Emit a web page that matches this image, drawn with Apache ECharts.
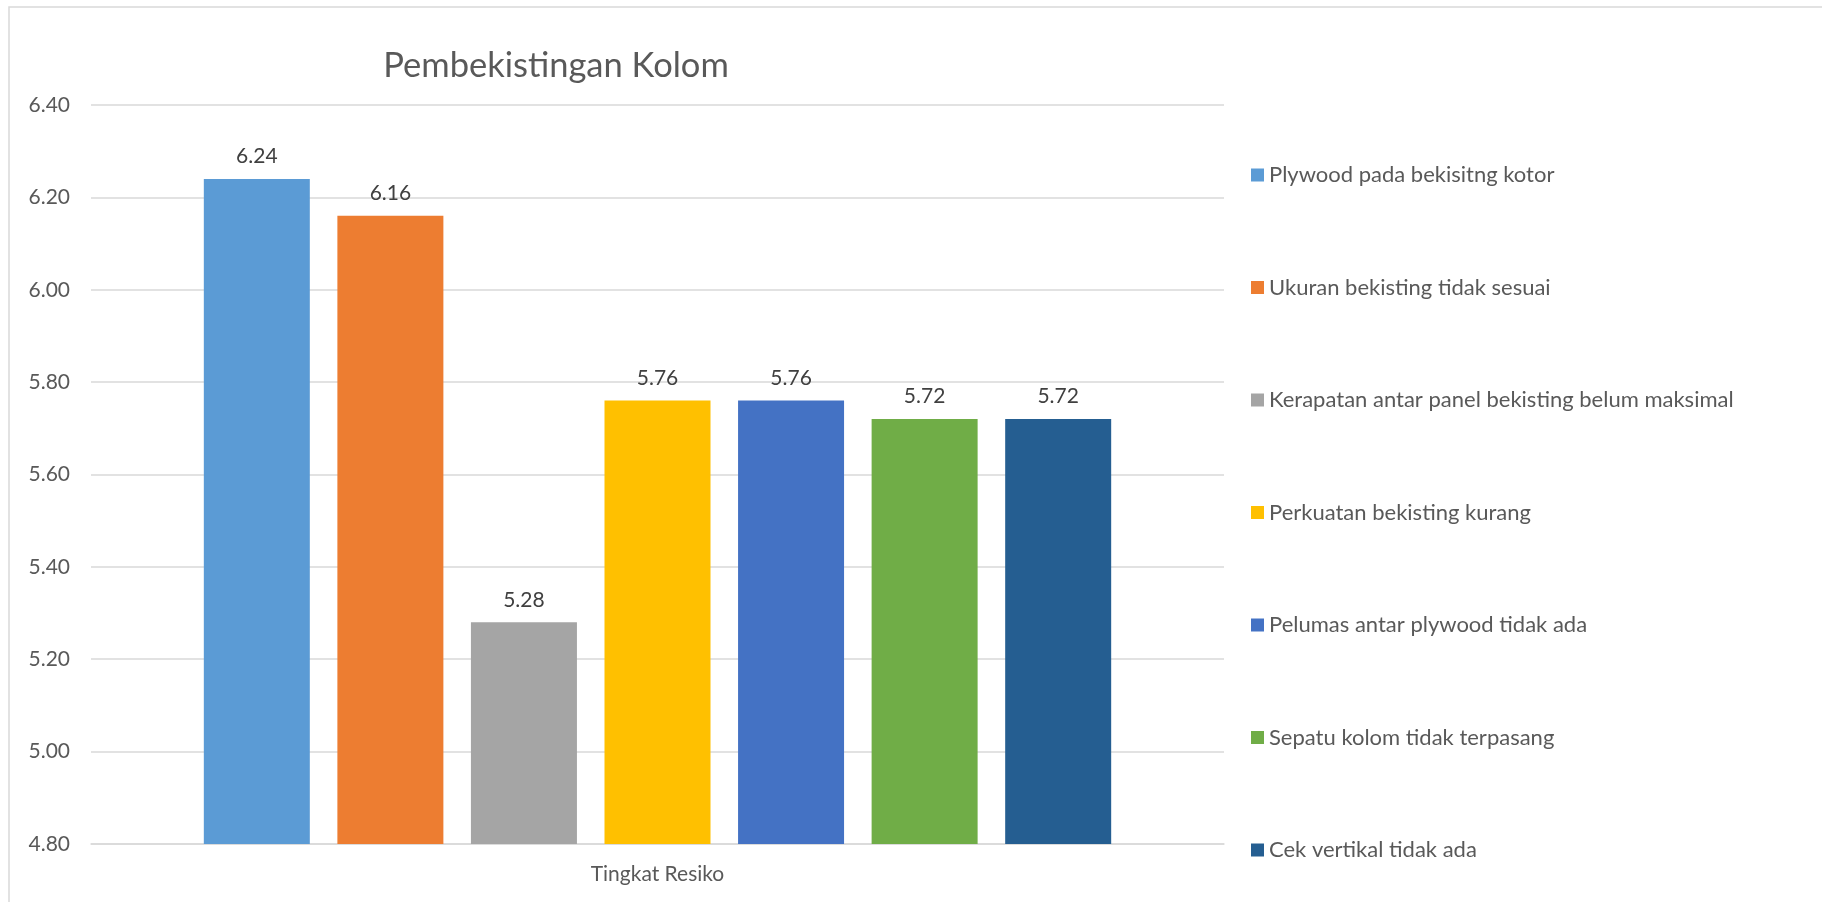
<!DOCTYPE html>
<html>
<head>
<meta charset="utf-8">
<title>Pembekistingan Kolom</title>
<script src="https://cdn.jsdelivr.net/npm/echarts@6/dist/echarts.min.js"></script>
<style>
  html, body { margin: 0; padding: 0; background: #fff; }
  #chart { width: 1822px; height: 902px; }
</style>
</head>
<body>
<div id="chart"></div>
<script>
const categories = ['Tingkat Resiko']
const seriesNames = [
  'Plywood pada bekisitng kotor',
  'Ukuran bekisting tidak sesuai',
  'Kerapatan antar panel bekisting belum maksimal',
  'Perkuatan bekisting kurang',
  'Pelumas antar plywood tidak ada',
  'Sepatu kolom tidak terpasang',
  'Cek vertikal tidak ada',
]
const values = [6.24, 6.16, 5.28, 5.76, 5.76, 5.72, 5.72]
const colors = ['#5B9BD5', '#ED7D31', '#A5A5A5', '#FFC000', '#4472C4', '#70AD47', '#255E91']

const font = 'Lato, "Open Sans", sans-serif'
const chart = echarts.init(document.getElementById('chart'))

const series = seriesNames.map((name, i) => ({
  name,
  type: 'bar',
  data: [values[i]],
  barWidth: 106,
  barGap: '26%',
  itemStyle: { color: colors[i] },
  label: {
    show: true,
    position: 'top',
    distance: 12,
    color: '#404040',
    fontFamily: font,
    fontSize: 21,
    formatter: (p) => Number(p.value).toFixed(2),
  },
}))

chart.setOption({
  animation: false,
  color: colors,
  title: {
    text: 'Pembekistingan Kolom',
    left: 551,
    textAlign: 'center',
    top: 43,
    textStyle: { color: '#595959', fontFamily: font, fontSize: 34.5, fontWeight: 'normal' },
  },
  graphic: [{
    type: 'rect',
    shape: { x: 9, y: 7, width: 2000, height: 1000 },
    style: { fill: 'none', stroke: '#d9d9d9', lineWidth: 1.5 },
    silent: true,
  }],
  legend: {
    orient: 'vertical',
    left: 1246,
    top: 157,
    itemWidth: 13,
    itemHeight: 13,
    itemGap: 86.5,
    icon: 'rect',
    textStyle: { color: '#595959', fontFamily: font, fontSize: 22, lineHeight: 26 },
  },
  grid: { left: 91, top: 105, width: 1133, height: 739, containLabel: false },
  xAxis: {
    type: 'category',
    data: categories,
    axisTick: { show: false },
    axisLine: { lineStyle: { color: '#d9d9d9', width: 1.5 } },
    axisLabel: { color: '#595959', fontFamily: font, fontSize: 21, margin: 20 },
  },
  yAxis: {
    type: 'value',
    min: 4.8,
    max: 6.4,
    interval: 0.2,
    axisLine: { show: false },
    axisTick: { show: false },
    splitLine: { lineStyle: { color: '#d9d9d9', width: 1.5 } },
    axisLabel: {
      color: '#595959',
      fontFamily: font,
      fontSize: 21,
      margin: 21,
      formatter: (v) => v.toFixed(2),
    },
  },
  series,
})
</script>
</body>
</html>
